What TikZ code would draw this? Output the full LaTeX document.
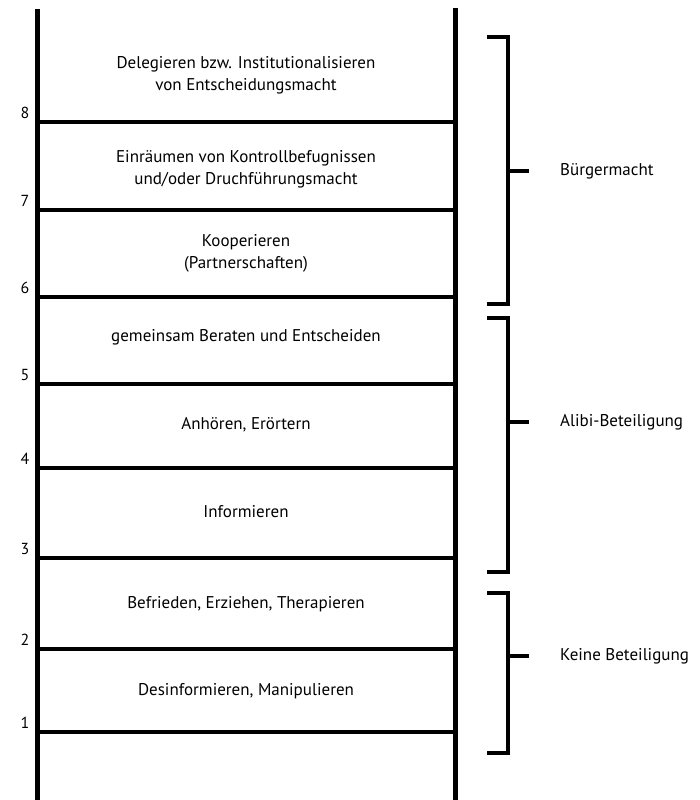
\documentclass[tikz,border=0pt]{standalone}
\usepackage{fontspec}
\setmainfont{PT Sans}
\begin{document}
\begin{tikzpicture}[x=1pt,y=-1pt,
  rail/.style={line width=5pt},
  rung/.style={line width=4pt},
  brack/.style={line width=4pt,line join=miter},
  lbl/.style={font=\fontsize{17}{22}\selectfont,align=center,inner sep=0pt},
  num/.style={font=\fontsize{16}{18}\selectfont,inner sep=0pt},
  grp/.style={font=\fontsize{17}{18}\selectfont,anchor=west,inner sep=0pt}]
\useasboundingbox (0,0) rectangle (700,800);
% rails
\coordinate (lt) at (37,9);
\coordinate (lb) at (37,800);
\coordinate (rt) at (455,8);
\coordinate (rb) at (455,800);
\draw[rail] (lt) -- (lb);
\draw[rail] (rt) -- (rb);
% rungs
\foreach \n/\y in {8/122,7/210,6/297,5/384,4/468,3/558,2/649,1/732}{
  \coordinate (a\n) at (37,\y);
  \coordinate (b\n) at (455,\y);
  \draw[rung] (a\n) -- (b\n);
  \node[num] (n\n) at (25,\y-9) {\n};
}
% labels
\node[lbl] (t8) at (246,75) {Delegieren bzw. Institutionalisieren\\von Entscheidungsmacht};
\node[lbl] (t7) at (246,169) {Einräumen von Kontrollbefugnissen\\und/oder Druchführungsmacht};
\node[lbl] (t6) at (246,253) {Kooperieren\\(Partnerschaften)};
\node[lbl] (t5) at (246,337) {gemeinsam Beraten und Entscheiden};
\node[lbl] (t4) at (246,425) {Anhören, Erörtern};
\node[lbl] (t3) at (246,512) {Informieren};
\node[lbl] (t2) at (246,604) {Befrieden, Erziehen, Therapieren};
\node[lbl] (t1) at (246,691) {Desinformieren, Manipulieren};
% brackets
\draw[brack] (487,37) -- (508,37) -- (508,304) -- (487,304);
\draw[brack] (508,171) -- (529,171);
\node[grp] (g1) at (560,171) {Bürgermacht};
\draw[brack] (487,318) -- (508,318) -- (508,572) -- (487,572);
\draw[brack] (508,422) -- (529,422);
\node[grp] (g2) at (560,422) {Alibi-Beteiligung};
\draw[brack] (487,593) -- (508,593) -- (508,753) -- (487,753);
\draw[brack] (508,656) -- (529,656);
\node[grp] (g3) at (560,656) {Keine Beteiligung};
\end{tikzpicture}
\end{document}
